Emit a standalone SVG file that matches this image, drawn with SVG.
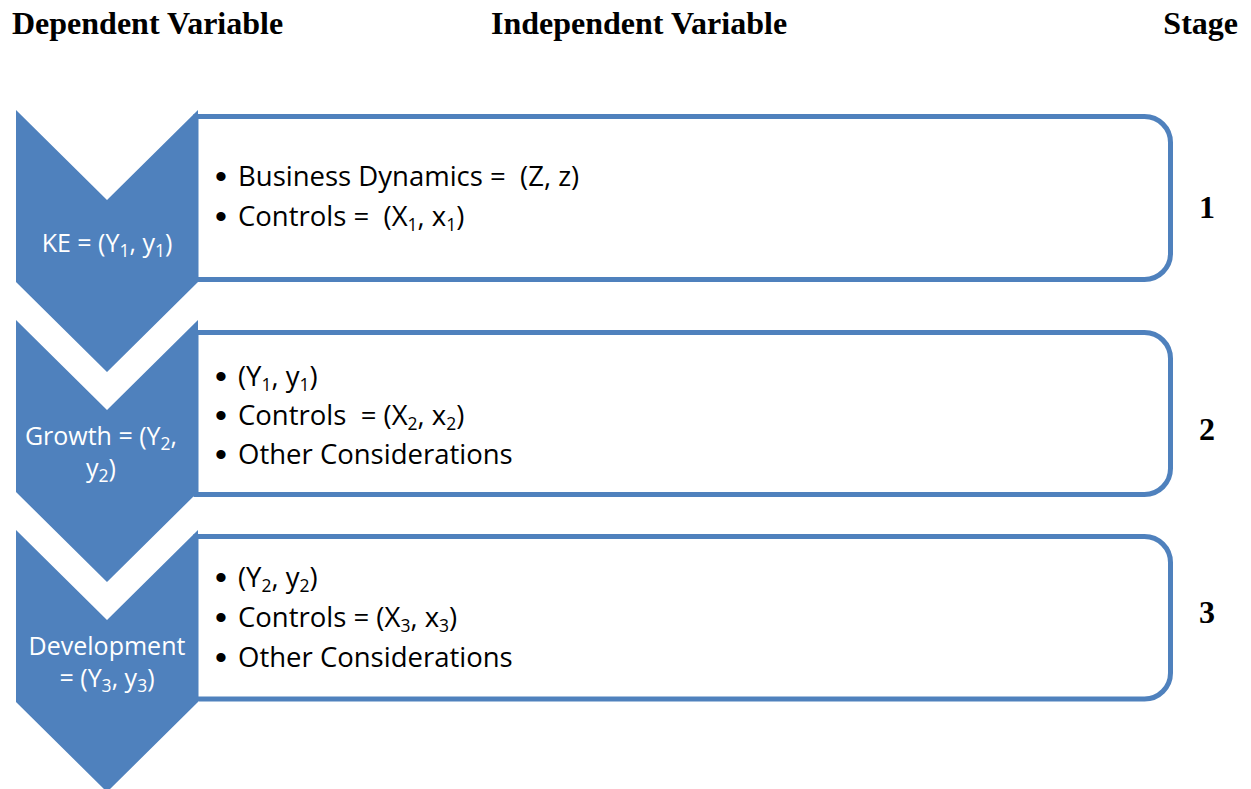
<svg xmlns="http://www.w3.org/2000/svg" width="1251" height="789" viewBox="0 0 1251 789">
<style>
.hdr{font-family:"Liberation Serif","Times New Roman",serif;font-weight:bold;font-size:32px;fill:#000}
.box{fill:#fff;stroke:#4F81BD;stroke-width:5}
.chev{fill:#4F81BD}
.lbl{font-family:"Open Sans","Liberation Sans",sans-serif;font-size:25px;fill:#fff;text-anchor:middle;white-space:pre}
.txt{font-family:"Open Sans","Liberation Sans",sans-serif;font-size:27.5px;fill:#000;white-space:pre}
.bul{font-family:"Liberation Sans",sans-serif;font-size:34px;fill:#000;text-anchor:middle}
.sub{font-size:17.5px}
</style>
<rect width="1251" height="789" fill="#fff"/>
<g id="headers">
<text class="hdr" x="12" y="34">Dependent Variable</text>
<text class="hdr" x="491" y="34">Independent Variable</text>
<text class="hdr" x="1238" y="34" text-anchor="end">Stage</text>
</g>
<g id="stage1">
<path class="box" d="M196,116.5 H1144.5 A26,26 0 0 1 1170.5,142.5 V253.5 A26,26 0 0 1 1144.5,279.5 H196 Z"/>
<polygon class="chev" points="16,110 107,200 198,110 198,282 107,372 16,282"/>
<text class="lbl" x="107" y="252">KE = (Y<tspan class="sub" dy="5">1</tspan><tspan dy="-5">, y</tspan><tspan class="sub" dy="5">1</tspan><tspan dy="-5">)</tspan></text>
<text class="bul" x="221" y="188">•</text>
<text class="txt" x="238" y="186">Business Dynamics =  (Z, z)</text>
<text class="bul" x="221" y="228">•</text>
<text class="txt" x="238" y="226">Controls =  (X<tspan class="sub" dy="5">1</tspan><tspan dy="-5">, x</tspan><tspan class="sub" dy="5">1</tspan><tspan dy="-5">)</tspan></text>
<text class="hdr" x="1207" y="218" text-anchor="middle">1</text>
</g>
<g id="stage2">
<path class="box" d="M196,332.5 H1144.5 A26,26 0 0 1 1170.5,358.5 V468.5 A26,26 0 0 1 1144.5,494.5 H196 Z"/>
<polygon class="chev" points="16,320 107,410 198,320 198,492 107,582 16,492"/>
<text class="lbl" x="101" y="445">Growth = (Y<tspan class="sub" dy="5">2</tspan><tspan dy="-5">,</tspan></text>
<text class="lbl" x="101" y="477">y<tspan class="sub" dy="5">2</tspan><tspan dy="-5">)</tspan></text>
<text class="bul" x="221" y="388">•</text>
<text class="txt" x="238" y="386">(Y<tspan class="sub" dy="5">1</tspan><tspan dy="-5">, y</tspan><tspan class="sub" dy="5">1</tspan><tspan dy="-5">)</tspan></text>
<text class="bul" x="221" y="427">•</text>
<text class="txt" x="238" y="425">Controls  = (X<tspan class="sub" dy="5">2</tspan><tspan dy="-5">, x</tspan><tspan class="sub" dy="5">2</tspan><tspan dy="-5">)</tspan></text>
<text class="bul" x="221" y="466">•</text>
<text class="txt" x="238" y="464">Other Considerations</text>
<text class="hdr" x="1207" y="440" text-anchor="middle">2</text>
</g>
<g id="stage3">
<path class="box" d="M196,536.5 H1144.5 A26,26 0 0 1 1170.5,562.5 V673 A26,26 0 0 1 1144.5,699 H196 Z"/>
<polygon class="chev" points="16,530 107,620 198,530 198,702 107,792 16,702"/>
<text class="lbl" x="107" y="655">Development</text>
<text class="lbl" x="107" y="687">= (Y<tspan class="sub" dy="5">3</tspan><tspan dy="-5">, y</tspan><tspan class="sub" dy="5">3</tspan><tspan dy="-5">)</tspan></text>
<text class="bul" x="221" y="589">•</text>
<text class="txt" x="238" y="587">(Y<tspan class="sub" dy="5">2</tspan><tspan dy="-5">, y</tspan><tspan class="sub" dy="5">2</tspan><tspan dy="-5">)</tspan></text>
<text class="bul" x="221" y="629">•</text>
<text class="txt" x="238" y="627">Controls = (X<tspan class="sub" dy="5">3</tspan><tspan dy="-5">, x</tspan><tspan class="sub" dy="5">3</tspan><tspan dy="-5">)</tspan></text>
<text class="bul" x="221" y="669">•</text>
<text class="txt" x="238" y="667">Other Considerations</text>
<text class="hdr" x="1207" y="623" text-anchor="middle">3</text>
</g>
<g id="connectors"></g>
</svg>
